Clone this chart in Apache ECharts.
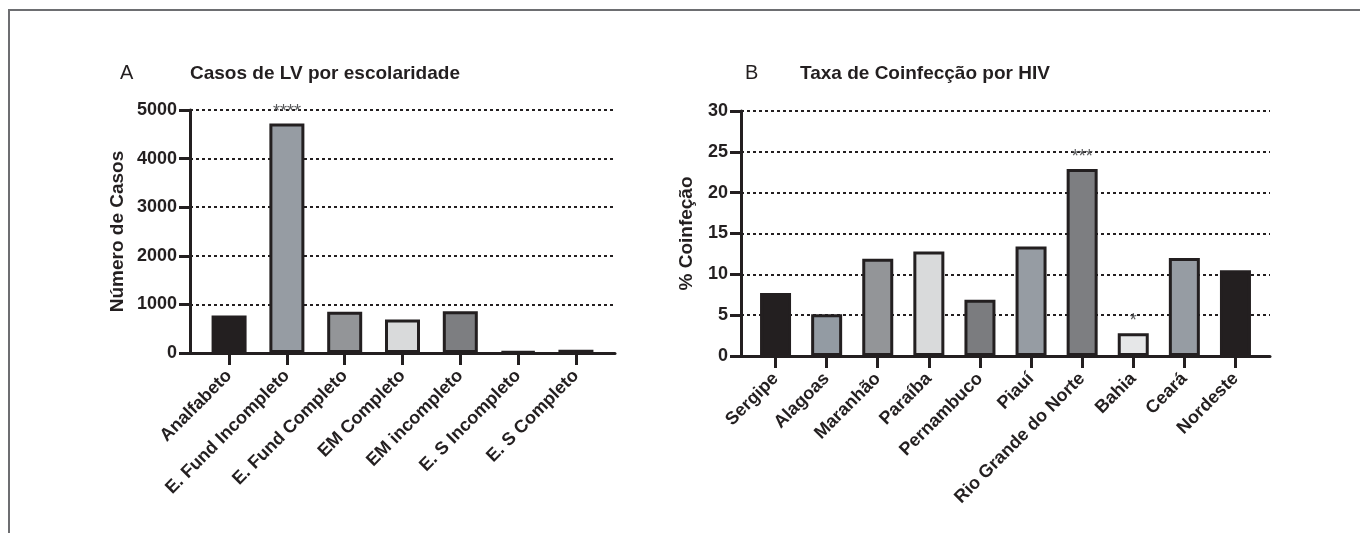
<!DOCTYPE html>
<html>
<head>
<meta charset="utf-8">
<script src="https://cdn.jsdelivr.net/npm/echarts@6/dist/echarts.min.js"></script>
<style>
  html, body { margin: 0; padding: 0; background: #ffffff; }
  #chart { width: 1360px; height: 533px; }
</style>
</head>
<body>
<div id="chart"></div>
<script>
// Panel A: visceral leishmaniasis cases by schooling
const catsA = ['Analfabeto', 'E. Fund Incompleto', 'E. Fund Completo', 'EM Completo', 'EM incompleto', 'E. S Incompleto', 'E. S Completo'];
const valsA = [770, 4720, 850, 690, 860, 30, 65];
const fillA = ['#231f20', '#969ca3', '#939598', '#d9dadb', '#7d7e81', '#231f20', '#231f20'];
const sigA  = ['', '****', '', '', '', '', ''];
const ticksA = [0, 1000, 2000, 3000, 4000, 5000];

// Panel B: HIV co-infection rate by state
const catsB = ['Sergipe', 'Alagoas', 'Maranhão', 'Paraíba', 'Pernambuco', 'Piauí', 'Rio Grande do Norte', 'Bahia', 'Ceará', 'Nordeste'];
const valsB = [7.7, 5.1, 11.9, 12.8, 6.9, 13.4, 22.9, 2.8, 12.0, 10.5];
const fillB = ['#231f20', '#939ba3', '#939598', '#d9dadb', '#7b7c7f', '#969ca3', '#7d7e81', '#e6e7e8', '#969ca3', '#231f20'];
const sigB  = ['', '', '', '', '', '', '***', '*', '', ''];
const ticksB = [0, 5, 10, 15, 20, 25, 30];

const INK = '#231f20';
const FONT = '"Liberation Sans", Arial, Helvetica, sans-serif';
const PAD = 0.676; // category padding at both ends of the x axis

function indices(n) { return Array.from({ length: n }, (_, i) => i); }

function xAxisFor(cats, gridIndex) {
  const idx = indices(cats.length);
  return {
    type: 'value',
    gridIndex: gridIndex,
    min: -PAD,
    max: cats.length - 1 + PAD,
    axisLine: { show: true, onZero: false, lineStyle: { color: INK, width: 3 } },
    axisTick: { show: true, customValues: idx, length: 12, lineStyle: { color: INK, width: 3 } },
    axisLabel: {
      show: true,
      customValues: idx,
      formatter: v => cats[Math.round(v)],
      rotate: 45,
      margin: 20,
      color: INK,
      fontFamily: FONT,
      fontWeight: 'bold',
      fontSize: 18
    },
    splitLine: { show: false }
  };
}

function yAxisFor(ticks, name, gap, gridIndex) {
  return {
    type: 'value',
    gridIndex: gridIndex,
    min: ticks[0],
    max: ticks[ticks.length - 1],
    interval: ticks[1] - ticks[0],
    name: name,
    nameLocation: 'middle',
    nameGap: gap,
    nameTextStyle: { color: INK, fontFamily: FONT, fontWeight: 'bold', fontSize: 19 },
    axisLine: { show: true, onZero: false, lineStyle: { color: INK, width: 3 } },
    axisTick: { show: true, length: 11, lineStyle: { color: INK, width: 3 } },
    axisLabel: { color: INK, fontFamily: FONT, fontWeight: 'bold', fontSize: 18, margin: 13, formatter: v => String(v) },
    splitLine: { show: true, lineStyle: { color: INK, width: 2, type: [3, 3] } }
  };
}

function barSeries(vals, fills, sig, idx, width) {
  return {
    type: 'bar',
    xAxisIndex: idx,
    yAxisIndex: idx,
    barWidth: width,
    data: vals.map((v, i) => ({
      value: [i, v],
      itemStyle: { color: fills[i], borderColor: INK, borderWidth: 3 }
    })),
    label: {
      show: true,
      position: 'top',
      distance: 3,
      formatter: p => sig[p.dataIndex],
      color: '#58595b',
      fontFamily: FONT,
      fontSize: 18
    },
    silent: true,
    animation: false
  };
}

const chart = echarts.init(document.getElementById('chart'), null, { renderer: 'canvas' });

const titleStyle = { color: INK, fontFamily: FONT, fontWeight: 'bold', fontSize: 19 };
const letterStyle = { color: INK, fontFamily: FONT, fontWeight: 'normal', fontSize: 20 };

chart.setOption({
  backgroundColor: '#ffffff',
  animation: false,
  title: [
    { text: 'A', left: 120, top: 63, padding: 0, textStyle: letterStyle },
    { text: 'Casos de LV por escolaridade', left: 190, top: 64, padding: 0, textStyle: titleStyle },
    { text: 'B', left: 745, top: 63, padding: 0, textStyle: letterStyle },
    { text: 'Taxa de Coinfecção por HIV', left: 800, top: 64, padding: 0, textStyle: titleStyle }
  ],
  grid: [
    { left: 190, right: 1360 - 615, top: 110, bottom: 533 - 353, outerBoundsMode: 'none', containLabel: false },
    { left: 741, right: 1360 - 1270, top: 111, bottom: 533 - 356, outerBoundsMode: 'none', containLabel: false }
  ],
  xAxis: [xAxisFor(catsA, 0), xAxisFor(catsB, 1)],
  yAxis: [yAxisFor(ticksA, 'Número de Casos', 63, 0), yAxisFor(ticksB, '% Coinfeção', 45, 1)],
  series: [
    barSeries(valsA, fillA, sigA, 0, 35),
    barSeries(valsB, fillB, sigB, 1, 31)
  ],
  graphic: [
    {
      type: 'polyline',
      shape: { points: [[9, 533], [9, 10], [1360, 10]] },
      style: { stroke: '#6d6e71', lineWidth: 2, fill: null },
      silent: true
    }
  ]
});
</script>
</body>
</html>
